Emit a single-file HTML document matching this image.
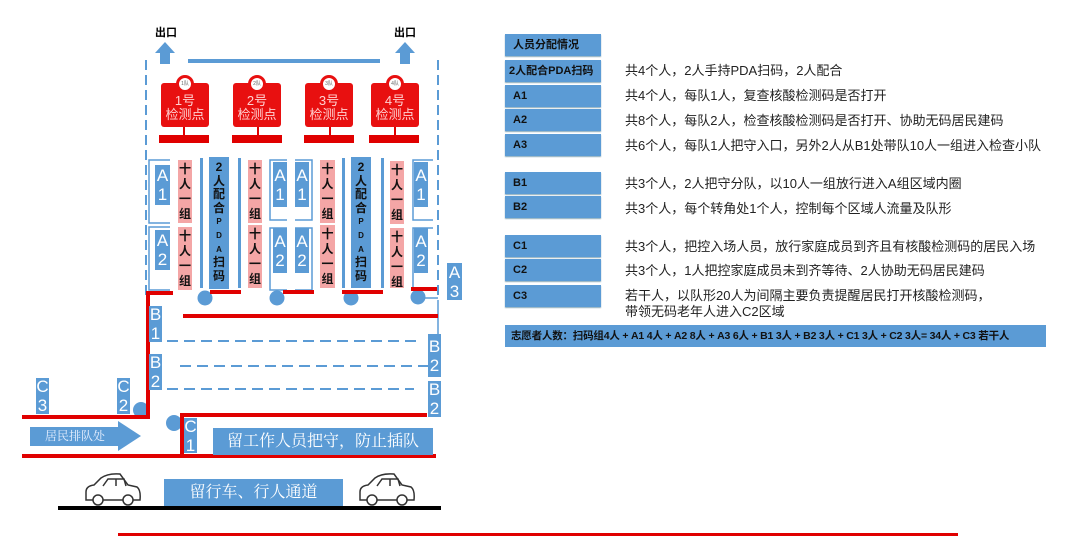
<!DOCTYPE html>
<html><head><meta charset="utf-8">
<style>
*{margin:0;padding:0;box-sizing:border-box}
body{width:1080px;height:536px;background:#fff;position:relative;overflow:hidden;font-family:"Liberation Sans","Noto Sans CJK SC",sans-serif}
.a{position:absolute}
.b{position:absolute;background:#5b9bd5}
.p{position:absolute;background:#f4a6a6}
.v{position:absolute;text-align:center;font-weight:bold;color:#111}
.v span{display:block}
.k{font-size:12px;line-height:15px;padding-top:2px}
.d{font-size:12px;padding-top:4px}
.d span{line-height:13.6px}
.d .s{font-size:8px}
.lbl{position:absolute;background:#5b9bd5;color:#fff;font-size:17px;line-height:19px;text-align:center;display:flex;flex-direction:column;justify-content:center}
.hd{position:absolute;left:505px;width:96px;height:22px;background:#5b9bd5;font-size:11px;font-weight:bold;color:#111;padding-left:8px;line-height:22px;box-shadow:0 1px 1px #8ab;white-space:nowrap}
.tx{position:absolute;left:625px;font-size:13px;color:#222;line-height:16px;white-space:nowrap}
.cp{position:absolute;width:48px;height:44px;background:#e81010;border-radius:3px;color:#ffd0d0;font-size:13px;line-height:14px;text-align:center;padding-top:11px}
.cc{position:absolute;width:18px;height:18px;border-radius:50%;background:#fff;border:3px solid #e81010;font-size:5px;color:#666;text-align:center;line-height:12px}
</style></head><body>
<svg class="a" style="left:0;top:0" width="1080" height="536">
<g stroke="#5b9bd5" stroke-width="2" fill="none">
<line x1="146" y1="60" x2="146" y2="300" stroke-dasharray="10 5"/>
<line x1="438" y1="60" x2="438" y2="300" stroke-dasharray="10 5"/>
<line x1="167" y1="341" x2="417" y2="341" stroke-dasharray="11 6"/>
<line x1="180" y1="366" x2="428" y2="366" stroke-dasharray="11 6"/>
<line x1="167" y1="389" x2="414" y2="389" stroke-dasharray="11 6"/>
<line x1="438" y1="300" x2="438" y2="335" stroke-width="1.5"/>
<polyline points="170,160 149,160 149,223 170,223" stroke-width="1.5"/>
<polyline points="170,227 149,227 149,290 170,290" stroke-width="1.5"/>
<polyline points="287,160 270,160 270,220 287,220" stroke-width="1.5"/>
<polyline points="287,228 270,228 270,290 287,290" stroke-width="1.5"/>
<polyline points="295,160 312,160 312,220 295,220" stroke-width="1.5"/>
<polyline points="295,228 312,228 312,290 295,290" stroke-width="1.5"/>
<polyline points="433,160 413,160 413,220 433,220" stroke-width="1.5"/>
<polyline points="433,228 413,228 413,290 433,290" stroke-width="1.5"/>
<line x1="425" y1="298" x2="438" y2="298" stroke-width="1.5"/>
</g>
<g fill="#5b9bd5">
<rect x="188" y="59" width="192" height="4"/>
<rect x="160" y="52" width="10" height="12"/><polygon points="155,53 165,42 175,53"/>
<rect x="400" y="52" width="10" height="12"/><polygon points="395,53 405,42 415,53"/>
<rect x="200" y="158" width="3" height="130"/><rect x="238" y="158" width="3" height="130"/>
<rect x="342" y="158" width="3" height="130"/><rect x="381" y="158" width="3" height="130"/>
<circle cx="205" cy="298" r="7.5"/><circle cx="277" cy="298" r="7.5"/><circle cx="351" cy="298" r="7.5"/><circle cx="418" cy="297" r="7.5"/>
<circle cx="141" cy="410" r="8"/><circle cx="174" cy="423" r="8"/>
<rect x="30" y="427" width="90" height="19"/><polygon points="118,421 141,436 118,451"/>
</g>
<g fill="#e00000">
<rect x="159" y="135" width="50" height="8"/><rect x="232" y="135" width="50" height="8"/><rect x="304" y="135" width="50" height="8"/><rect x="369" y="135" width="50" height="8"/>
<rect x="183" y="127" width="2" height="8"/><rect x="257" y="127" width="2" height="8"/><rect x="329" y="127" width="2" height="8"/><rect x="394" y="127" width="2" height="8"/>
<rect x="146" y="291" width="27" height="4"/><rect x="146" y="291" width="4" height="127"/>
<rect x="210" y="290" width="31" height="4"/><rect x="283" y="290" width="31" height="4"/><rect x="342" y="290" width="41" height="4"/><rect x="411" y="287" width="26" height="4"/>
<rect x="183" y="314" width="255" height="4"/>
<rect x="22" y="415" width="128" height="4"/>
<rect x="180" y="413" width="247" height="4"/><rect x="180" y="413" width="4" height="43"/>
<rect x="22" y="454" width="414" height="4"/>
<rect x="118" y="533" width="840" height="3"/>
</g>
<rect x="58" y="506" width="383" height="4" fill="#000"/>
<g fill="none" stroke="#333" stroke-width="1.5">
<path d="M86,500 L86,492 Q86,486 94,485 L101,478 Q108,473 120,474 L128,485 L137,487 Q141,490 140,500 Z"/>
<path d="M103,486 L108,479 L124,479 L126,486 M116,479 L116,486"/>
<circle cx="98" cy="500" r="5" fill="#fff"/><circle cx="128" cy="500" r="5" fill="#fff"/>
<path d="M360,500 L360,492 Q360,486 368,485 L375,478 Q382,473 394,474 L402,485 L411,487 Q415,490 414,500 Z"/>
<path d="M377,486 L382,479 L398,479 L400,486 M390,479 L390,486"/>
<circle cx="372" cy="500" r="5" fill="#fff"/><circle cx="402" cy="500" r="5" fill="#fff"/>
</g>
</svg>

<div class="a" style="left:155px;top:24px;font-size:11px;font-weight:bold">出口</div>
<div class="a" style="left:394px;top:24px;font-size:11px;font-weight:bold">出口</div>

<div class="cp" style="left:161px;top:83px">1号<br>检测点</div>
<div class="cp" style="left:233px;top:83px">2号<br>检测点</div>
<div class="cp" style="left:305px;top:83px">3号<br>检测点</div>
<div class="cp" style="left:371px;top:83px">4号<br>检测点</div>
<div class="cc" style="left:176px;top:75px">1队</div>
<div class="cc" style="left:248px;top:75px">2队</div>
<div class="cc" style="left:320px;top:75px">3队</div>
<div class="cc" style="left:386px;top:75px">4队</div>

<div class="lbl" style="left:155px;top:165px;width:15px;height:40px">A<br>1</div>
<div class="lbl" style="left:155px;top:230px;width:15px;height:40px">A<br>2</div>
<div class="lbl" style="left:273px;top:162px;width:14px;height:45px">A<br>1</div>
<div class="lbl" style="left:273px;top:228px;width:14px;height:45px">A<br>2</div>
<div class="lbl" style="left:295px;top:162px;width:14px;height:45px">A<br>1</div>
<div class="lbl" style="left:295px;top:228px;width:14px;height:45px">A<br>2</div>
<div class="lbl" style="left:414px;top:162px;width:14px;height:45px">A<br>1</div>
<div class="lbl" style="left:414px;top:228px;width:14px;height:45px">A<br>2</div>
<div class="lbl" style="left:447px;top:263px;width:15px;height:37px">A<br>3</div>

<div class="p v k" style="left:178px;top:160px;width:14px;height:63px"><span>十</span><span>人</span><span>一</span><span>组</span></div>
<div class="p v k" style="left:178px;top:227px;width:14px;height:63px"><span>十</span><span>人</span><span>一</span><span>组</span></div>
<div class="p v k" style="left:248px;top:160px;width:14px;height:63px"><span>十</span><span>人</span><span>一</span><span>组</span></div>
<div class="p v k" style="left:248px;top:225px;width:14px;height:63px"><span>十</span><span>人</span><span>一</span><span>组</span></div>
<div class="p v k" style="left:320px;top:160px;width:15px;height:63px"><span>十</span><span>人</span><span>一</span><span>组</span></div>
<div class="p v k" style="left:320px;top:225px;width:15px;height:63px"><span>十</span><span>人</span><span>一</span><span>组</span></div>
<div class="p v k" style="left:390px;top:161px;width:14px;height:63px"><span>十</span><span>人</span><span>一</span><span>组</span></div>
<div class="p v k" style="left:390px;top:228px;width:14px;height:60px"><span>十</span><span>人</span><span>一</span><span>组</span></div>
<div class="b v d" style="left:209px;top:157px;width:20px;height:132px"><span>2</span><span>人</span><span>配</span><span>合</span><span class="s">P</span><span class="s">D</span><span class="s">A</span><span>扫</span><span>码</span></div>
<div class="b v d" style="left:351px;top:157px;width:20px;height:131px"><span>2</span><span>人</span><span>配</span><span>合</span><span class="s">P</span><span class="s">D</span><span class="s">A</span><span>扫</span><span>码</span></div>

<div class="lbl" style="left:149px;top:306px;width:13px;height:36px">B<br>1</div>
<div class="lbl" style="left:149px;top:354px;width:13px;height:36px">B<br>2</div>
<div class="lbl" style="left:428px;top:334px;width:13px;height:43px">B<br>2</div>
<div class="lbl" style="left:428px;top:381px;width:13px;height:36px">B<br>2</div>
<div class="lbl" style="left:36px;top:378px;width:13px;height:36px">C<br>3</div>
<div class="lbl" style="left:117px;top:378px;width:13px;height:36px">C<br>2</div>
<div class="lbl" style="left:184px;top:418px;width:13px;height:35px">C<br>1</div>

<div class="a" style="left:30px;top:427px;width:90px;height:19px;color:#e8f0ff;font-size:12px;line-height:19px;text-align:center;font-family:'Liberation Serif','Noto Serif CJK SC',serif">居民排队处</div>
<div class="b" style="left:213px;top:428px;width:220px;height:27px;color:#fff;font-size:16px;line-height:27px;text-align:center;font-family:'Liberation Serif','Noto Serif CJK SC',serif">留工作人员把守，防止插队</div>
<div class="b" style="left:164px;top:479px;width:179px;height:27px;color:#fff;font-size:16px;line-height:27px;text-align:center;font-family:'Liberation Serif','Noto Serif CJK SC',serif">留行车、行人通道</div>

<div class="hd" style="top:34px">人员分配情况</div>
<div class="hd" style="top:60px;padding-left:4px">2人配合PDA扫码</div>
<div class="hd" style="top:85px">A1</div>
<div class="hd" style="top:109px">A2</div>
<div class="hd" style="top:134px">A3</div>
<div class="hd" style="top:172px">B1</div>
<div class="hd" style="top:196px">B2</div>
<div class="hd" style="top:235px">C1</div>
<div class="hd" style="top:259px">C2</div>
<div class="hd" style="top:285px">C3</div>

<div class="tx" style="top:63px">共4个人，2人手持PDA扫码，2人配合</div>
<div class="tx" style="top:88px">共4个人，每队1人，复查核酸检测码是否打开</div>
<div class="tx" style="top:113px">共8个人，每队2人，检查核酸检测码是否打开、协助无码居民建码</div>
<div class="tx" style="top:138px">共6个人，每队1人把守入口，另外2人从B1处带队10人一组进入检查小队</div>
<div class="tx" style="top:176px">共3个人，2人把守分队，以10人一组放行进入A组区域内圈</div>
<div class="tx" style="top:201px">共3个人，每个转角处1个人，控制每个区域人流量及队形</div>
<div class="tx" style="top:239px">共3个人，把控入场人员，放行家庭成员到齐且有核酸检测码的居民入场</div>
<div class="tx" style="top:263px">共3个人，1人把控家庭成员未到齐等待、2人协助无码居民建码</div>
<div class="tx" style="top:288px">若干人，以队形20人为间隔主要负责提醒居民打开核酸检测码，<br>带领无码老年人进入C2区域</div>
<div class="b" style="left:505px;top:325px;width:541px;height:22px;font-size:10.5px;font-weight:bold;color:#111;line-height:22px;padding-left:6px;white-space:nowrap;letter-spacing:-0.2px">志愿者人数：扫码组4人 + A1 4人 + A2 8人 + A3 6人 + B1 3人 + B2 3人 + C1 3人 + C2 3人= 34人 + C3 若干人</div>
</body></html>
